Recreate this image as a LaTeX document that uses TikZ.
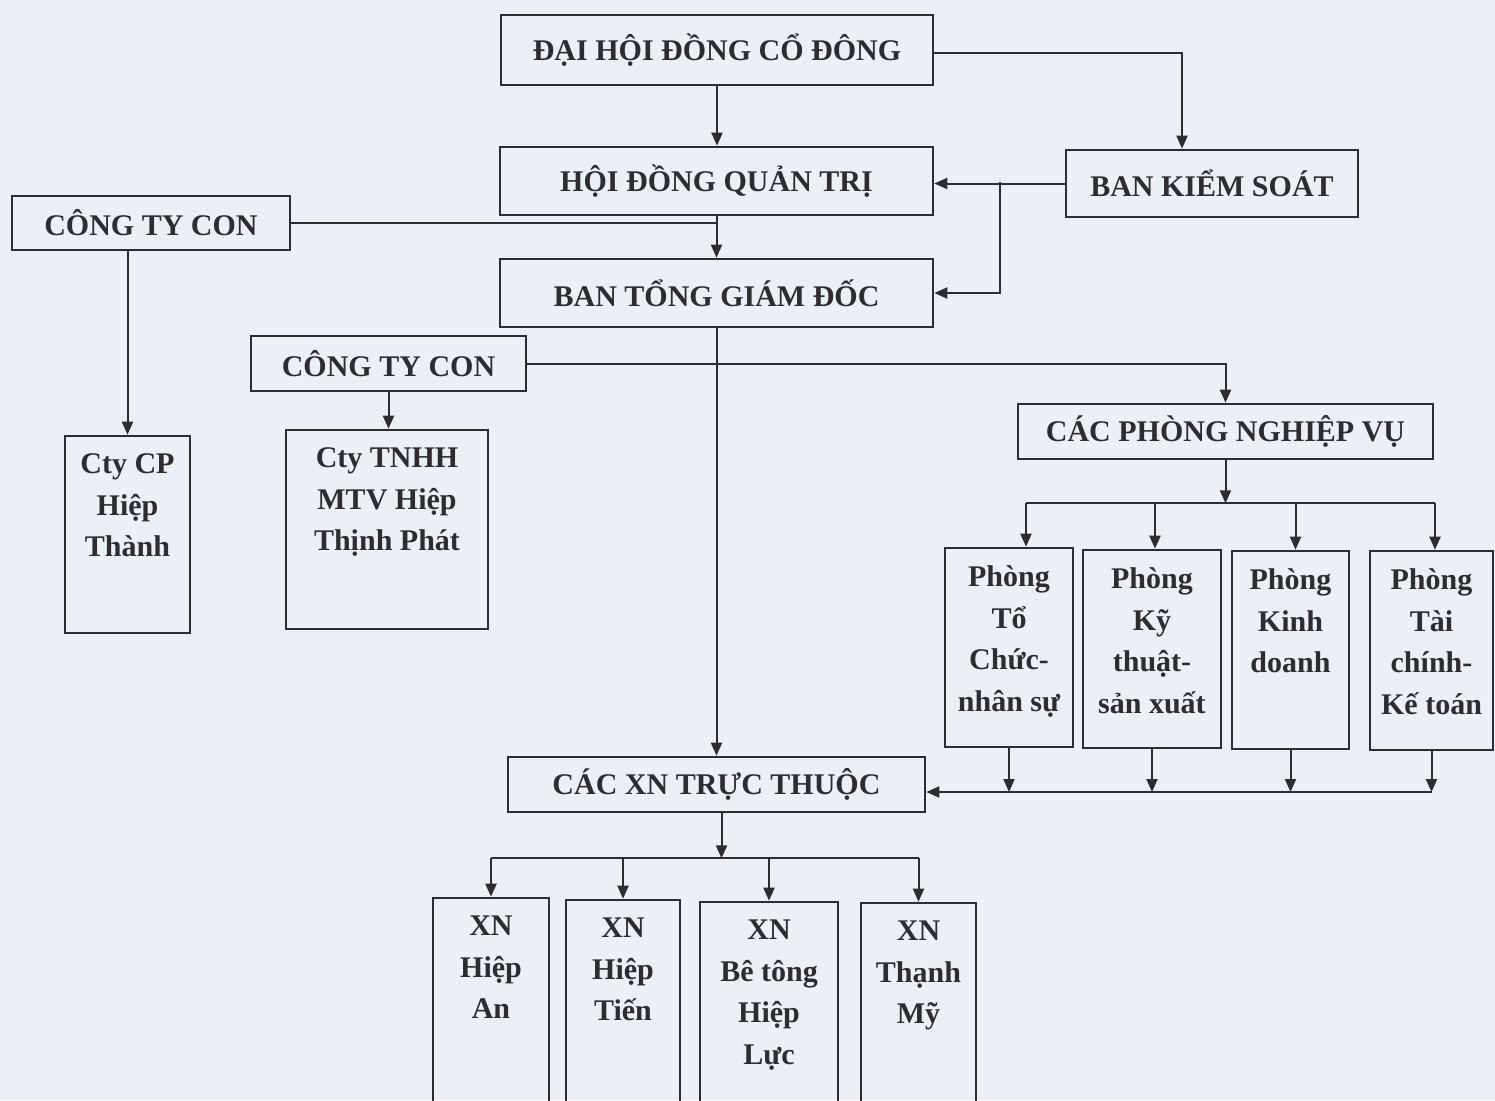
\documentclass[tikz,border=0pt]{standalone}
\usepackage{fontspec}
\setmainfont{Liberation Serif}
\usetikzlibrary{arrows.meta,calc}
\definecolor{nen}{RGB}{235,240,247}
\definecolor{net}{RGB}{45,45,48}
\begin{document}
\begin{tikzpicture}[x=0.5pt,y=-0.5pt,
        hop/.style={draw=net,line width=1.3pt,inner sep=0pt,text=net,
            font=\bfseries\fontsize{15}{20.75}\selectfont},
        chu/.style={anchor=north,align=center,inner sep=0pt,yshift=-9.5pt,text=net,
            font=\bfseries\fontsize{15}{20.75}\selectfont},
        mui/.style={draw=net,line width=1pt,-{Triangle[length=6.5pt,width=5.5pt]}},
        day/.style={draw=net,line width=1pt}]
                \path[use as bounding box,fill=nen] (0,0) rectangle (1495,1100);
                \clip (0,0) rectangle (1495,1100);
                % cap tren
                \node[hop,minimum width=216pt,minimum height=35pt] (dhd) at (717,50) {ĐẠI HỘI ĐỒNG CỔ ĐÔNG};
                \node[hop,minimum width=216.5pt,minimum height=34pt] (hdqt) at (716.5,181) {HỘI ĐỒNG QUẢN TRỊ};
                \node[hop,minimum width=146pt,minimum height=33.5pt] (bks) at (1212,183.5) {BAN KIỂM SOÁT};
                \node[hop,minimum width=216.5pt,minimum height=34pt] (btgd) at (716.5,293) {BAN TỔNG GIÁM ĐỐC};
                \node[hop,minimum width=139pt,minimum height=27pt] (con1) at (151,223) {CÔNG TY CON};
                \node[hop,minimum width=137.5pt,minimum height=27.5pt] (con2) at (388.5,363.5) {CÔNG TY CON};
                \node[hop,minimum width=207.5pt,minimum height=27.5pt] (cpnv) at (1225.5,431.5) {CÁC PHÒNG NGHIỆP VỤ};
                \node[hop,minimum width=208.5pt,minimum height=27.5pt] (xntt) at (716.5,784.5) {CÁC XN TRỰC THUỘC};
                % cong ty con
                \node[hop,minimum width=62.5pt,minimum height=98.5pt] (cp) at (127.5,534.5) {};
                \node[chu] (cpT) at (cp.north) {Cty CP\\Hiệp\\Thành};
                \node[hop,minimum width=101pt,minimum height=99.5pt] (tnhh) at (387,529.5) {};
                \node[chu] (tnhhT) at (tnhh.north) {Cty TNHH\\MTV Hiệp\\Thịnh Phát};
                % cac phong
                \node[hop,minimum width=64pt,minimum height=99.5pt] (p1) at (1009,647.5) {};
                \node[chu] (p1T) at (p1.north) {Phòng\\Tổ\\Chức-\\nhân sự};
                \node[hop,minimum width=69pt,minimum height=99pt] (p2) at (1152,649) {};
                \node[chu] (p2T) at (p2.north) {Phòng\\Kỹ\\thuật-\\sản xuất};
                \node[hop,minimum width=58.5pt,minimum height=99pt] (p3) at (1290.5,650) {};
                \node[chu] (p3T) at (p3.north) {Phòng\\Kinh\\doanh};
                \node[hop,minimum width=61.5pt,minimum height=99.5pt] (p4) at (1431.5,650.5) {};
                \node[chu] (p4T) at (p4.north) {Phòng\\Tài\\chính-\\Kế toán};
                % xi nghiep
                \node[hop,minimum width=58pt,minimum height=126pt] (xn1) at (491,1024) {};
                \node[chu] (xn1T) at (xn1.north) {XN\\Hiệp\\An};
                \node[hop,minimum width=57pt,minimum height=126pt] (xn2) at (623,1026) {};
                \node[chu] (xn2T) at (xn2.north) {XN\\Hiệp\\Tiến};
                \node[hop,minimum width=69pt,minimum height=126pt] (xn3) at (769,1028) {};
                \node[chu] (xn3T) at (xn3.north) {XN\\Bê tông\\Hiệp\\Lực};
                \node[hop,minimum width=57.5pt,minimum height=126pt] (xn4) at (918.5,1029) {};
                \node[chu] (xn4T) at (xn4.north) {XN\\Thạnh\\Mỹ};
                % duong noi
                \draw[mui] (dhd.south) -- (dhd.south |- hdqt.north);
                \draw[mui] ([yshift=-1.5pt]dhd.east) -| ($(bks.north)+(-30,0)$);
                \draw[mui] (bks.west) -- (bks.west -| hdqt.east);
                \coordinate (re) at ($(hdqt.east)!0.5!(bks.west)$);
                \draw[mui] (re) |- (btgd.east);
                \draw[mui] (hdqt.south) -- (hdqt.south |- btgd.north);
                \draw[day] (con1.east) -- (con1.east -| hdqt.south);
                \draw[mui] (cp.north |- con1.south) -- (cp.north);
                \draw[mui] (con2.south) -- (con2.south |- tnhh.north);
                \draw[mui] (con2.east) -| (cpnv.north);
                \draw[mui] (btgd.south) -- (btgd.south |- xntt.north);
                \coordinate (nv) at ($(cpnv.south)+(0,43)$);
                \draw[mui] (cpnv.south) -- (nv);
                \draw[day] ([xshift=8.5pt]p1.north |- nv) -- ([xshift=1.75pt]p4.north |- nv);
                \foreach \p/\d in {p1/8.5pt,p2/1.5pt,p3/2.5pt,p4/1.75pt}
                    \draw[mui] ([xshift=\d]\p.north |- nv) -- ([xshift=\d]\p.north);
                \coordinate (pb) at ($(xntt.east)+(0,7.5)$);
                \foreach \p in {p1,p2,p3,p4}
                    \draw[mui] (\p.south) -- (\p.south |- pb);
                \draw[mui] (p4.south |- pb) -- (pb);
                \coordinate (xb) at ($(xntt.south)+(5,45)$);
                \draw[mui] ([xshift=2.5pt]xntt.south) -- (xb);
                \draw[day] (xn1.north |- xb) -- (xn4.north |- xb);
                \foreach \x in {xn1,xn2,xn3,xn4}
                    \draw[mui] (\x.north |- xb) -- (\x.north);
            \end{tikzpicture}
\end{document}
